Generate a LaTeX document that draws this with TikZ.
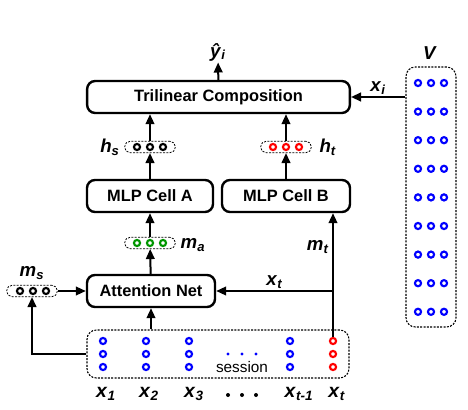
\documentclass[tikz,border=0pt]{standalone}
\usepackage{fontspec}
\setmainfont{Liberation Sans}
\usetikzlibrary{arrows.meta}
\definecolor{dotgreen}{RGB}{0,150,0}
\newcommand{\lblvar}[2]{\textbf{\textit{#1}\textsubscript{\textit{#2}}}}
\tikzset{
  block/.style={draw=black, line width=1.8pt, rounded corners=6pt, minimum height=24pt, inner sep=0pt, font=\fontsize{12.3}{14}\selectfont\bfseries},
  vec/.style={draw=black, dash pattern=on 1.5pt off 1pt, line width=0.6pt, rounded corners=4pt, minimum width=38pt, minimum height=8.5pt, inner sep=0pt},
  frame/.style={draw=black, dash pattern=on 1.5pt off 1pt, line width=0.8pt, rounded corners=7pt, inner sep=0pt},
  neuron/.style={circle, draw=#1, line width=1.6pt, minimum size=4.6pt, inner sep=0pt},
  var/.style={font=\fontsize{14}{16}\selectfont, inner sep=1pt},
  flow/.style={-{Triangle[length=7.5pt,width=6.5pt]}, line width=1.5pt},
}
\begin{document}
\begin{tikzpicture}[x=0.75pt,y=-0.75pt]
    \useasboundingbox (0,0) rectangle (468,410);
    % blocks
    \node[block, minimum width=197pt] (Trilinear) at (218.5,97) {Trilinear Composition};
    \node[block, minimum width=94.5pt] (CellA) at (150,196) {MLP Cell A};
    \node[block, minimum width=96pt] (CellB) at (286,196) {MLP Cell B};
    \node[block, minimum width=96pt] (Attention) at (151,291) {Attention Net};
    % hidden vectors
    \node[vec] (Hs) at (150,147) {};
    \node[vec] (Ht) at (286,147) {};
    \node[vec] (Ma) at (150,243) {};
    \node[vec] (Ms) at (32,291) {};
    \foreach \x in {137,150,163} {
        \node[neuron=black] at (\x,147) {};
        \node[neuron=red] at (\x+136,147) {};
        \node[neuron=dotgreen] at (\x,243) {};
    }
    \foreach \x in {20,33,46} \node[neuron=black] at (\x,291) {};
    % session
    \node[frame, minimum width=196.5pt, minimum height=36pt] (Session) at (218,354) {};
    \foreach \x in {103,146,189,290}
        \foreach \y in {341,354,367}
            \node[neuron=blue] at (\x,\y) {};
    \node[neuron=red] (XtTop) at (333,341) {};
    \node[neuron=red] at (333,354) {};
    \node[neuron=red] at (333,367) {};
    \foreach \x in {228,242,256} \fill[blue] (\x,354) circle (1.3pt);
    \node[font=\fontsize{11.5}{13}\selectfont, inner sep=0pt] at (242,367) {session};
    % item vectors
    \node[frame, minimum width=37.5pt, minimum height=195pt] (V) at (431,197) {};
    \foreach \y in {0,...,8}
        \foreach \x in {418,431,444}
            \node[neuron=blue] at (\x,83+28.6*\y) {};
    % labels
    \node[var] (Yhat) at (218,52) {\lblvar{ŷ}{i}};
    \node[var] at (430,53) {\textbf{\textit{V}}};
    \node[var] at (110,147) {\lblvar{h}{s}};
    \node[var] at (328,147) {\lblvar{h}{t}};
    \node[var] at (193,245) {\lblvar{m}{a}};
    \node[var] at (318,247) {\lblvar{m}{t}};
    \node[var] at (32,273) {\lblvar{m}{s}};
    \foreach \x/\s in {106/1,149/2,194/3,299/{t-1},337/t}
        \node[var, font=\fontsize{14.5}{16}\selectfont] at (\x,394) {\lblvar{x}{\s}};
    \foreach \x in {228,242,256} \fill (\x,395) circle (1.5pt);
    % connectors
    \draw[flow] (Trilinear) -- (Yhat);
    \draw[flow] (V.west |- Trilinear) -- (Trilinear) node[midway, above, var] {\lblvar{x}{i}};
    \draw[flow] (Hs) -- (Hs |- Trilinear.south);
    \draw[flow] (Ht) -- (Ht |- Trilinear.south);
    \draw[flow] (CellA) -- (Hs);
    \draw[flow] (CellB) -- (Ht);
    \draw[flow] (Ma) -- (CellA);
    \draw[flow] (Attention) -- (Ma);
    \draw[flow] (Attention |- Session.north) -- (Attention);
    \draw[flow] (Ms) -- (Attention);
    \draw[flow] (Session.west) -| (Ms.south);
    \draw[flow] (XtTop) -- (XtTop |- CellB.south);
    \coordinate (Branch) at (XtTop |- Attention);
    \draw[flow] (Branch) -- (Attention) node[midway, above, var] {\lblvar{x}{t}};
\end{tikzpicture}
\end{document}
